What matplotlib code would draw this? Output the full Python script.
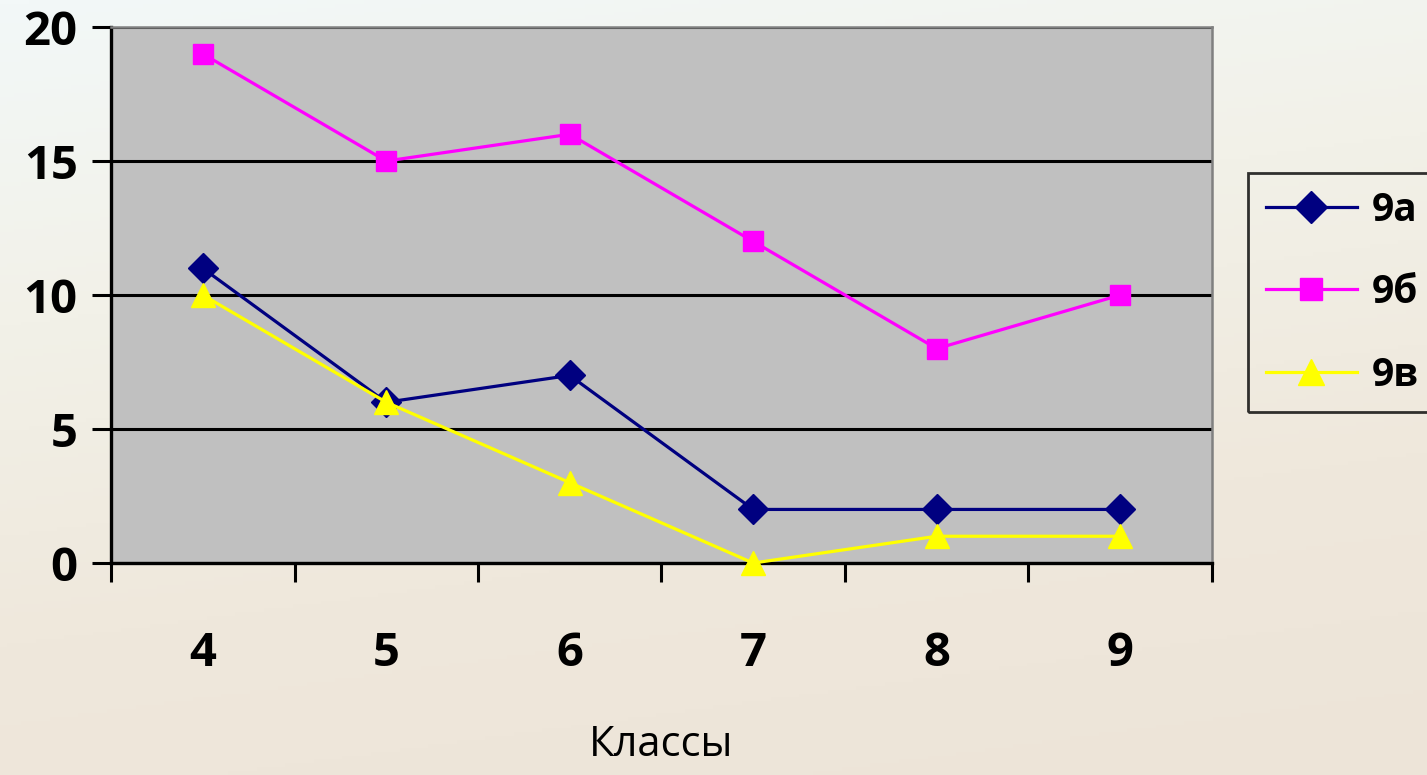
import numpy as np
import matplotlib
matplotlib.use("Agg")
import matplotlib.pyplot as plt
from matplotlib.colors import LinearSegmentedColormap

plt.rcParams['font.family'] = ['Open Sans', 'DejaVu Sans']

classes = ['4', '5', '6', '7', '8', '9']
s_9a = [11, 6, 7, 2, 2, 2]
s_9b = [19, 15, 16, 12, 8, 10]
s_9v = [10, 6, 3, 0, 1, 1]

fig = plt.figure(figsize=(14.27, 7.75), dpi=100)

# soft slide background
bg = fig.add_axes([0, 0, 1, 1], zorder=0)
bg_cmap = LinearSegmentedColormap.from_list(
    'bg', ['#f3f8f8', '#f2f1e8', '#efe8dc', '#ede4d8'])
yy, xx = np.mgrid[0:1:200j, 0:1:200j]
grad = 0.8 * yy + 0.2 * xx
bg.imshow(grad, cmap=bg_cmap, aspect='auto', extent=[0, 1, 0, 1], origin='upper')
bg.axis('off')

ax = fig.add_axes([0.0778, 0.2735, 0.7715, 0.6916], zorder=1)
ax.set_facecolor('#c0c0c0')

x = np.arange(len(classes))
ax.plot(x, s_9a, color='#000080', lw=2.3, marker='D', ms=15, label='9а', zorder=3)
ax.plot(x, s_9b, color='#ff00ff', lw=2.3, marker='s', ms=14, label='9б', zorder=3)
ax.plot(x, s_9v, color='#ffff00', lw=2.3, marker='^', ms=17, label='9в', zorder=3,
        clip_on=False)

ax.set_xlim(-0.5, len(classes) - 0.5)
ax.set_ylim(0, 20)
ax.set_yticks([0, 5, 10, 15, 20])
ax.yaxis.grid(True, color='black', lw=2.2)
ax.set_axisbelow(True)

# category ticks sit between the groups, labels under the points
ax.set_xticks(np.arange(-0.5, len(classes)), minor=False)
ax.set_xticklabels([])
ax.set_xticks(x, minor=True)
ax.set_xticklabels(classes, minor=True)
ax.tick_params(axis='x', which='minor', length=0, pad=48, labelsize=34)
ax.tick_params(axis='x', which='major', length=14, width=2.2, direction='out')
ax.tick_params(axis='y', length=14, width=2.2, direction='out', labelsize=34, pad=10)
for lbl in ax.get_xticklabels(minor=True) + ax.get_yticklabels():
    lbl.set_fontweight('bold')

for side in ('left', 'bottom'):
    ax.spines[side].set_color('black')
    ax.spines[side].set_linewidth(2.4)
for side in ('top', 'right'):
    ax.spines[side].set_color('#808080')
    ax.spines[side].set_linewidth(1.8)

ax.set_xlabel('Классы', fontsize=30, labelpad=34)

leg = ax.legend(loc='center left', bbox_to_anchor=(0.8746, 0.6225),
                bbox_transform=fig.transFigure, frameon=True, fancybox=False,
                borderaxespad=0, prop={'weight': 'bold', 'size': 28},
                handlelength=2.35, labelspacing=1.12, borderpad=0.45,
                handletextpad=0.38, markerscale=1.1)
leg.get_frame().set_edgecolor('black')
leg.get_frame().set_linewidth(2)
leg.get_frame().set_facecolor('none')

fig.savefig('out.png', dpi=100)
